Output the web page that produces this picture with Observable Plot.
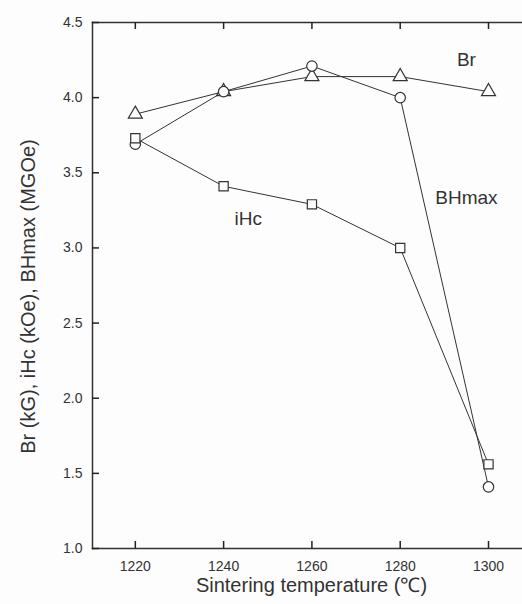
<!DOCTYPE html>
<html><head><meta charset="utf-8">
<script src="https://cdn.jsdelivr.net/npm/d3@7"></script>
<script src="https://cdn.jsdelivr.net/npm/@observablehq/plot@0.6"></script>
<style>
body{margin:0;background:#fdfdfd;}
svg{font-family:"Liberation Sans",Arial,sans-serif;}
</style>
</head><body><div id="chart"></div>
<script>
const temps = [1220, 1240, 1260, 1280, 1300];
const brValues = [3.89, 4.04, 4.14, 4.14, 4.04];
const bhmaxValues = [3.69, 4.04, 4.21, 4.00, 1.41];
const ihcValues = [3.73, 3.41, 3.29, 3.00, 1.56];
const xTicks = [1220, 1240, 1260, 1280, 1300];
const yTicks = [1.0, 1.5, 2.0, 2.5, 3.0, 3.5, 4.0, 4.5];
const seriesNames = ["Br", "BHmax", "iHc"];
const seriesSymbols = ["triangle", "circle", "square"];
const labelTemps = [1295, 1295, 1245.6];
const labelValues = [4.25, 3.33, 3.19];

const seriesValues = [brValues, bhmaxValues, ihcValues];
const rows = seriesNames.flatMap((s, i) => temps.map((t, j) => ({series: s, temp: t, value: seriesValues[i][j], symbol: seriesSymbols[i]})));
const labels = seriesNames.map((s, i) => ({name: s, temp: labelTemps[i], value: labelValues[i]}));

const W = 522, H = 604, mL = 92, mT = 22, mB = 56, mR = 0, tick = 7;
const plotW = W - mL - mR, plotH = H - mT - mB;
const ink = "#333";
const chart = Plot.plot({
  width: W,
  height: H,
  marginLeft: mL,
  marginTop: mT,
  marginBottom: mB,
  marginRight: mR,
  style: {background: "transparent", color: ink},
  x: {domain: [1210.3, 1307.7]},
  y: {domain: [1.0, 4.5]},
  symbol: {domain: seriesSymbols, range: seriesSymbols},
  marks: [
    // tick labels
    Plot.axisX({ticks: xTicks, tickSize: 0, tickPadding: 13, tickFormat: d => String(d), fontSize: 14, label: null}),
    Plot.axisY({ticks: yTicks, tickSize: 0, tickPadding: 10, tickFormat: d => d.toFixed(1), fontSize: 14, label: null}),
    Plot.frame({anchor: "left", stroke: ink, strokeWidth: 1.5}),
    Plot.frame({anchor: "bottom", stroke: ink, strokeWidth: 1.5}),
    Plot.frame({anchor: "top", stroke: ink, strokeWidth: 1.5}),
    // inward tick marks (bottom, top, left)
    Plot.tickX(xTicks, {x: d => d, insetTop: plotH - tick, stroke: "#222", strokeWidth: 1.5}),
    Plot.tickX(xTicks, {x: d => d, insetBottom: plotH - tick, stroke: "#222", strokeWidth: 1.5}),
    Plot.tickY(yTicks, {y: d => d, insetRight: plotW - tick, stroke: "#222", strokeWidth: 1.5}),
    Plot.line(rows, {x: "temp", y: "value", z: "series", stroke: ink, strokeWidth: 1}),
    Plot.dot(rows, {x: "temp", y: "value", symbol: "symbol", r: 5.2, fill: "#fdfdfd", stroke: ink, strokeWidth: 1.2}),
    Plot.text(labels, {x: "temp", y: "value", text: "name", fontSize: 19, fill: ink}),
    Plot.text(["Sintering temperature (℃)"], {frameAnchor: "bottom", textAnchor: "middle", dy: 43, dx: 4, fontSize: 20, fill: ink}),
    Plot.text(["Br (kG), iHc (kOe), BHmax (MGOe)"], {frameAnchor: "left", textAnchor: "middle", dx: -64, dy: 11, rotate: -90, fontSize: 20, fill: ink})
  ]
});
document.getElementById("chart").appendChild(chart);
</script>
</body></html>
